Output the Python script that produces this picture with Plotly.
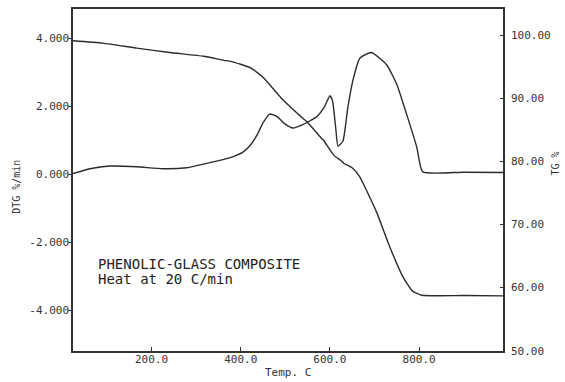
import plotly.graph_objects as go

# DTG curve (left axis, %/min)
dtg_temp = [24, 62, 106, 167, 225, 279, 331, 375, 405, 420, 436, 450, 465, 481, 499,
            517, 539, 571, 588, 600, 606, 613, 618, 629, 640, 651, 667, 693, 727, 750,
            772, 795, 808, 900, 988]
dtg_val = [0.03, 0.17, 0.25, 0.23, 0.17, 0.20, 0.35, 0.49, 0.66, 0.84, 1.15, 1.52, 1.78,
           1.71, 1.49, 1.37, 1.47, 1.71, 2.00, 2.32, 2.15, 1.37, 0.84, 0.98, 1.96, 2.74,
           3.42, 3.59, 3.23, 2.65, 1.77, 0.79, 0.08, 0.07, 0.06]

# TG curve (right axis, %)
tg_temp = [24, 91, 167, 241, 317, 362, 378, 422, 451, 490, 528, 550, 579, 586, 609,
           624, 631, 651, 667, 674, 705, 734, 763, 785, 806, 900, 988]
tg_val = [99.16, 98.78, 98.0, 97.3, 96.7, 96.06, 95.9, 94.85, 93.28, 90.14, 87.58, 86.2,
          83.86, 83.34, 80.98, 80.2, 79.73, 78.94, 77.58, 76.59, 71.9, 66.5, 61.8, 59.45,
          58.8, 58.75, 58.7]

x_ticks = [200, 400, 600, 800]
x_ticktext = ["200.0", "400.0", "600.0", "800.0"]
dtg_ticks = [-4, -2, 0, 2, 4]
dtg_ticktext = ["-4.000", "-2.000", "0.000", "2.000", "4.000"]
tg_ticks = [50, 60, 70, 80, 90, 100]
tg_ticktext = ["50.00", "60.00", "70.00", "80.00", "90.00", "100.00"]

LINE = "#2b2b2b"
AX = "#333333"
FONT = "DejaVu Sans Mono"

fig = go.Figure()
fig.add_trace(go.Scatter(x=dtg_temp, y=dtg_val, mode="lines",
                         line=dict(color=LINE, width=1.4, shape="spline", smoothing=0.5),
                         yaxis="y", showlegend=False))
fig.add_trace(go.Scatter(x=tg_temp, y=tg_val, mode="lines",
                         line=dict(color=LINE, width=1.4, shape="spline", smoothing=0.5),
                         yaxis="y2", showlegend=False))

fig.update_layout(
    width=565, height=382,
    margin=dict(l=73, r=62, t=7, b=31),
    paper_bgcolor="white", plot_bgcolor="white",
    font=dict(family=FONT, size=11, color="#333"),
    xaxis=dict(range=[24, 988], tickvals=x_ticks, ticktext=x_ticktext,
               showgrid=False, zeroline=False, showline=True, mirror=True,
               linecolor=AX, linewidth=1.5, ticks="inside", ticklen=4,
               tickcolor=AX, ticklabelstandoff=-3,
               tickfont=dict(family=FONT, size=11, color="#333")),
    yaxis=dict(range=[-5.19, 4.87], tickvals=dtg_ticks, ticktext=dtg_ticktext,
               showgrid=False, zeroline=False, showline=True,
               linecolor=AX, linewidth=1.5, ticks="outside", ticklen=3,
               tickcolor=AX, ticklabelstandoff=-3,
               tickfont=dict(family=FONT, size=11, color="#333")),
    yaxis2=dict(range=[49.95, 104.2], tickvals=tg_ticks, ticktext=tg_ticktext,
                overlaying="y", side="right",
                showgrid=False, zeroline=False, showline=True,
                linecolor=AX, linewidth=1.5, ticks="inside", ticklen=3,
                tickcolor=AX, ticklabelstandoff=4,
                tickfont=dict(family=FONT, size=11, color="#333")),
)

fig.add_annotation(text="Temp. C", xref="paper", yref="paper", x=0.5, y=0,
                   yshift=-21, showarrow=False, xanchor="center", yanchor="middle",
                   font=dict(family=FONT, size=11, color="#333"))
fig.add_annotation(text="DTG %/min", xref="paper", yref="paper", x=0, y=0.48,
                   xshift=-56, showarrow=False, textangle=-90,
                   xanchor="center", yanchor="middle",
                   font=dict(family=FONT, size=10, color="#333"))
fig.add_annotation(text="TG %", xref="paper", yref="paper", x=1, y=0.548,
                   xshift=53, showarrow=False, textangle=-90,
                   xanchor="center", yanchor="middle",
                   font=dict(family=FONT, size=10, color="#333"))
fig.add_annotation(text="PHENOLIC-GLASS COMPOSITE", xref="x", yref="y",
                   x=75, y=-2.62, showarrow=False, xanchor="left", yanchor="middle",
                   font=dict(family=FONT, size=14, color="#222"))
fig.add_annotation(text="Heat at 20 C/min", xref="x", yref="y",
                   x=75, y=-3.06, showarrow=False, xanchor="left", yanchor="middle",
                   font=dict(family=FONT, size=14, color="#222"))

fig.write_html("out.html")
